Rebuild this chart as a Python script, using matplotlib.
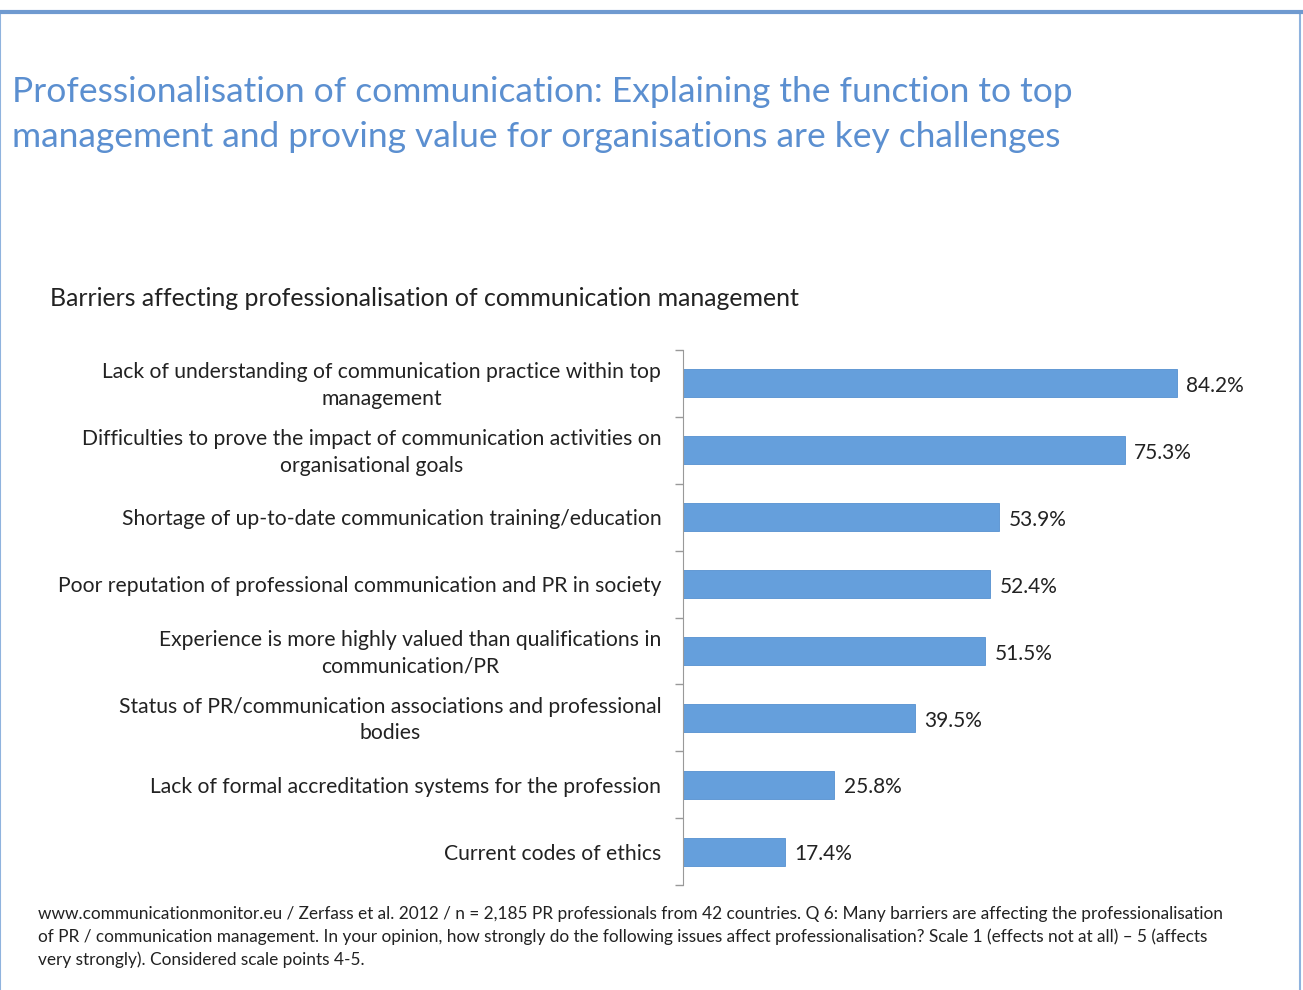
import matplotlib.pyplot as plt
from matplotlib.patches import Rectangle

# survey results, top to bottom
barriers = [
    "Lack of understanding of communication practice within top\nmanagement",
    "Difficulties to prove the impact of communication activities on\norganisational goals",
    "Shortage of up-to-date communication training/education",
    "Poor reputation of professional communication and PR in society",
    "Experience is more highly valued than qualifications in\ncommunication/PR",
    "Status of PR/communication associations and professional\nbodies",
    "Lack of formal accreditation systems for the profession",
    "Current codes of ethics",
]
shares = [84.2, 75.3, 53.9, 52.4, 51.5, 39.5, 25.8, 17.4]

title = ("Professionalisation of communication: Explaining the function to top\n"
         "management and proving value for organisations are key challenges")
subtitle = "Barriers affecting professionalisation of communication management"
footnote = ("www.communicationmonitor.eu / Zerfass et al. 2012 / n = 2,185 PR professionals from 42 countries. "
            "Q 6: Many barriers are affecting the professionalisation\n"
            "of PR / communication management. In your opinion, how strongly do the following issues affect "
            "professionalisation? Scale 1 (effects not at all) – 5 (affects\n"
            "very strongly). Considered scale points 4-5.")

plt.rcParams['font.family'] = ['Lato', 'DejaVu Sans']

fig = plt.figure(figsize=(13.03, 9.90), dpi=100)

# slide frame
fig.patches.append(Rectangle((0.0, -0.05), 0.998, 1.038, transform=fig.transFigure,
                             fill=False, edgecolor="#8fb3de", linewidth=1.5))
fig.add_artist(plt.Line2D([0, 1], [0.988, 0.988], color="#6f9ad0", linewidth=3))

fig.text(0.009, 0.884, title, color="#5b8fd0", fontsize=25.5, va="center",
         linespacing=1.5)
fig.text(0.038, 0.698, subtitle, color="#222222", fontsize=17.9, va="center")

ax = fig.add_axes([0.5242, 0.106, 0.4503, 0.5405])
y = list(range(len(barriers)))
ax.barh(y, shares, height=0.42, color="#659fdc", edgecolor="#5590d0", linewidth=0.6)
for yi, v in zip(y, shares):
    ax.text(v + 1.6, yi + 0.04, f"{v}%", va="center", ha="left", fontsize=15,
            color="#222222")

ax.set_xlim(0, 100)
ax.set_ylim(len(barriers) - 0.5, -0.5)
ax.set_xticks([])
ax.set_yticks([i - 0.5 for i in range(len(barriers) + 1)])
ax.set_yticklabels([])
ax.tick_params(axis="y", length=6, color="#999999", width=1)
for s in ["top", "right", "bottom"]:
    ax.spines[s].set_visible(False)
ax.spines["left"].set_color("#999999")

for yi, lab in zip(y, barriers):
    ax.text(-0.037, yi + 0.03, lab, transform=ax.get_yaxis_transform(), ha="right",
            va="center", fontsize=15.2, color="#222222", multialignment="center",
            linespacing=1.4)

fig.text(0.029, 0.0535, footnote, fontsize=12.4, color="#222222", va="center",
         linespacing=1.45)

plt.savefig("out.png", dpi=100)
